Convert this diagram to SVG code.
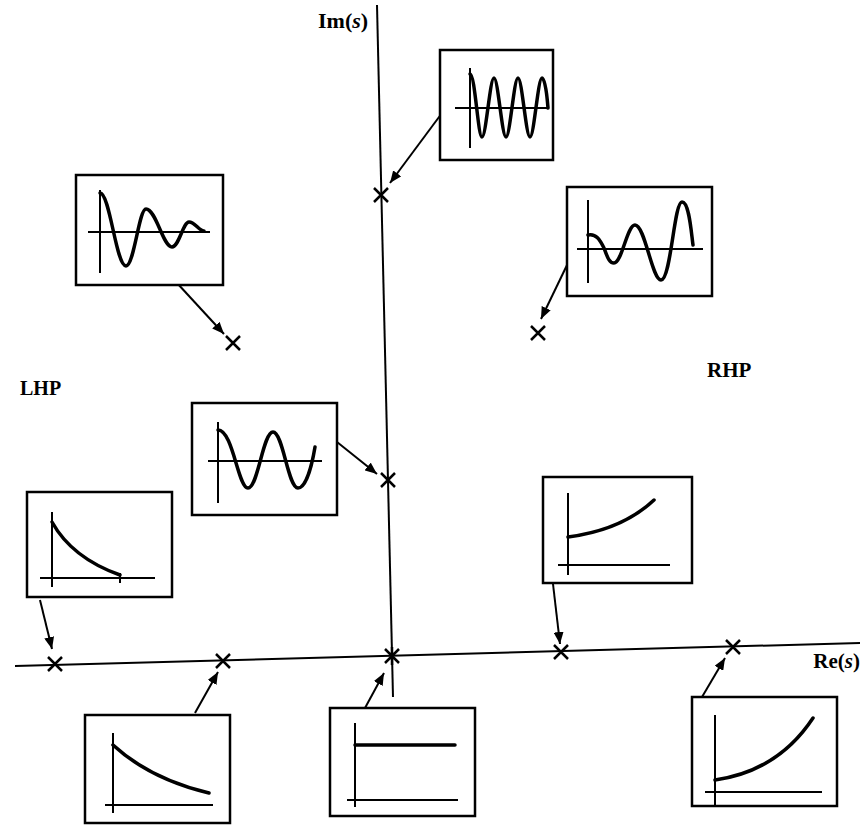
<svg xmlns="http://www.w3.org/2000/svg" width="862" height="826" viewBox="0 0 862 826">
<style>
.box{fill:#fff;stroke:#000;stroke-width:2.5}
.ax{stroke:#000;stroke-width:2;fill:none}
.crv{stroke:#000;stroke-width:3.5;fill:none;stroke-linecap:round;stroke-linejoin:round}
.pole{stroke:#000;stroke-width:2.5;fill:none}
.arr{stroke:#000;stroke-width:2;fill:none;marker-end:url(#ah)}
.lbl{font-family:"Liberation Serif","Times New Roman",serif;font-weight:bold;fill:#000}
</style>
<defs>
<marker id="ah" viewBox="0 0 12 10" refX="12" refY="5" markerWidth="12" markerHeight="10" markerUnits="userSpaceOnUse" orient="auto">
<path d="M0,0 L12,5 L0,10 z" fill="#000"/>
</marker>
</defs>
<rect width="862" height="826" fill="#fff"/>
<g id="axes">
<line class="ax" x1="377" y1="5" x2="393" y2="697"/>
<line class="ax" x1="15" y1="666" x2="860" y2="643"/>
<text class="lbl" x="318" y="28" font-size="22">Im(<tspan font-style="italic">s</tspan>)</text>
<text class="lbl" x="860" y="668" font-size="21" text-anchor="end">Re(<tspan font-style="italic">s</tspan>)</text>
<text class="lbl" x="20" y="395" font-size="20">LHP</text>
<text class="lbl" x="707" y="377" font-size="21">RHP</text>
</g>
<g id="poles">
<path class="pole" d="M374,188 l14,14 M388,188 l-14,14"/>
<path class="pole" d="M226,336 l14,14 M240,336 l-14,14"/>
<path class="pole" d="M531,326 l14,14 M545,326 l-14,14"/>
<path class="pole" d="M381,473 l14,14 M395,473 l-14,14"/>
<path class="pole" d="M48,657 l14,14 M62,657 l-14,14"/>
<path class="pole" d="M216,654 l14,14 M230,654 l-14,14"/>
<path class="pole" d="M385,649 l14,14 M399,649 l-14,14 M392,647 v18"/>
<path class="pole" d="M554,645 l14,14 M568,645 l-14,14"/>
<path class="pole" d="M726,640 l14,14 M740,640 l-14,14"/>
</g>
<g id="connectors">
<line class="arr" x1="442" y1="113" x2="390" y2="183"/>
<line class="arr" x1="177" y1="283" x2="224" y2="334"/>
<line class="arr" x1="568" y1="263" x2="541" y2="319"/>
<line class="arr" x1="337" y1="442" x2="377" y2="474"/>
<line class="arr" x1="40" y1="600" x2="52" y2="649"/>
<line class="arr" x1="553" y1="584" x2="560" y2="644"/>
<line class="arr" x1="195" y1="713" x2="218" y2="672"/>
<line class="arr" x1="365" y1="708" x2="384" y2="673"/>
<line class="arr" x1="702" y1="697" x2="725" y2="658"/>
</g>
<g id="box-imag-axis">
<rect class="box" x="440" y="50" width="113" height="110"/>
<line class="ax" x1="470" y1="68" x2="470" y2="148"/>
<line class="ax" x1="455" y1="108" x2="549" y2="108"/>
<path class="crv" d="M470,74 C475,74 478,137 482,137 C486,137 490,78 494,78 C498,78 502,137 506,137 C510,137 514,78 518,78 C522,78 526,137 530,137 C534,137 538,78 542,78 C545,78 547,95 548,108"/>
</g>
<g id="box-damped">
<rect class="box" x="76" y="175" width="147" height="110"/>
<line class="ax" x1="100" y1="190" x2="100" y2="273"/>
<line class="ax" x1="88" y1="232" x2="210" y2="232"/>
<path class="crv" d="M100,193 C110,193 116,266 126,266 C134,266 139,209 146,209 C156,209 163,247 172,247 C179,247 183,222 189,222 C195,222 199,231 204,231"/>
</g>
<g id="box-growing-osc">
<rect class="box" x="567" y="187" width="145" height="109"/>
<line class="ax" x1="588" y1="200" x2="588" y2="283"/>
<line class="ax" x1="577" y1="249" x2="703" y2="249"/>
<path class="crv" d="M588,235 C596,233 600,240 604,248 C607,256 609,263 614,263 C622,263 627,225 635,225 C645,225 652,280 661,280 C671,280 674,202 682,202 C689,202 691,230 693,245"/>
</g>
<g id="box-pure-osc">
<rect class="box" x="192" y="403" width="145" height="112"/>
<line class="ax" x1="218" y1="422" x2="218" y2="503"/>
<line class="ax" x1="208" y1="461" x2="322" y2="461"/>
<path class="crv" d="M218,430 C233,430 238,488 248,488 C258,488 263,432 273,432 C283,432 288,488 298,488 C306,488 312,465 315,447"/>
</g>
<g id="box-fast-decay">
<rect class="box" x="27" y="492" width="145" height="105"/>
<line class="ax" x1="52" y1="512" x2="52" y2="587"/>
<line class="ax" x1="40" y1="578" x2="155" y2="578"/>
<line class="ax" x1="120" y1="573" x2="120" y2="583"/>
<path class="crv" d="M52,522 Q72,558 120,575"/>
</g>
<g id="box-slow-growth">
<rect class="box" x="543" y="477" width="149" height="106"/>
<line class="ax" x1="568" y1="493" x2="568" y2="575"/>
<line class="ax" x1="558" y1="565" x2="670" y2="565"/>
<path class="crv" d="M568,537 Q622,530 654,500"/>
</g>
<g id="box-slow-decay">
<rect class="box" x="85" y="715" width="145" height="108"/>
<line class="ax" x1="113" y1="733" x2="113" y2="813"/>
<line class="ax" x1="105" y1="805" x2="213" y2="805"/>
<path class="crv" d="M113,745 Q150,779 209,793"/>
</g>
<g id="box-constant">
<rect class="box" x="330" y="708" width="145" height="108"/>
<line class="ax" x1="355" y1="723" x2="355" y2="807"/>
<line class="ax" x1="347" y1="800" x2="458" y2="800"/>
<line class="crv" x1="355" y1="745" x2="455" y2="745"/>
</g>
<g id="box-fast-growth">
<rect class="box" x="692" y="697" width="145" height="109"/>
<line class="ax" x1="715" y1="715" x2="715" y2="806"/>
<line class="ax" x1="705" y1="792" x2="822" y2="792"/>
<path class="crv" d="M715,780 Q778,771 813,718"/>
</g>
</svg>
